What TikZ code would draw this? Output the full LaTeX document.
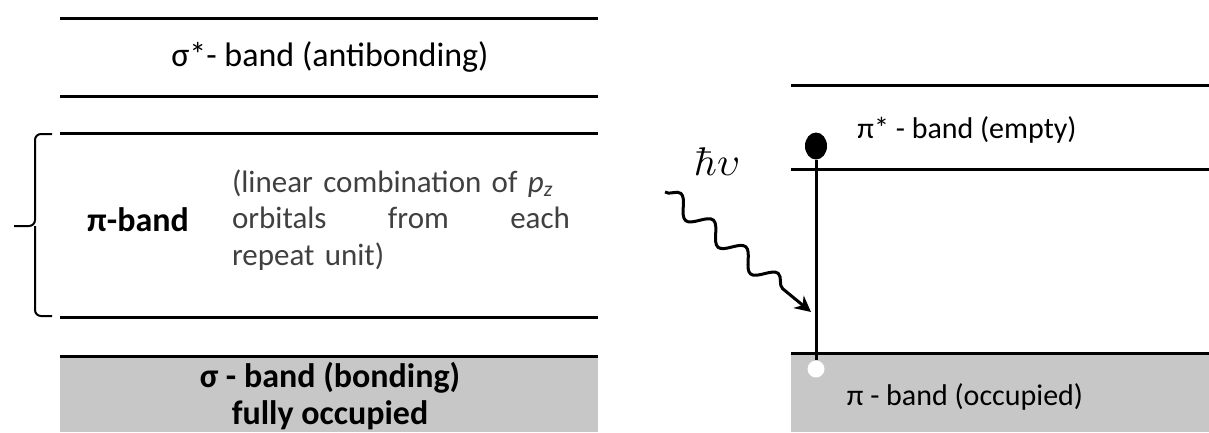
\documentclass[tikz,border=0pt]{standalone}
\usepackage[no-math]{fontspec}
\setmainfont{Carlito}
\usetikzlibrary{positioning}
\usetikzlibrary{arrows.meta,shapes.geometric}
\usetikzlibrary{decorations.pathmorphing}
\tikzstyle{bandedge}=[draw,line width=3pt]
\tikzstyle{bandfill}=[fill=black!22,draw=none]
\tikzstyle{bandlabel}=[font=\fontsize{34}{37}\selectfont,inner sep=0pt]
\tikzstyle{boldlabel}=[font=\fontsize{34}{37}\selectfont\bfseries,inner sep=0pt]
\tikzstyle{rightlabel}=[font=\fontsize{30}{34}\selectfont,inner sep=0pt]
\tikzstyle{desc}=[font=\fontsize{31}{36.5}\selectfont,text=black!75,text width=338pt,align=left,inner sep=0pt]
\tikzstyle{electron}=[ellipse,fill=black,minimum width=22pt,minimum height=27pt,inner sep=0pt]
\tikzstyle{hole}=[circle,fill=white,minimum size=17pt,inner sep=0pt]
\tikzstyle{transition}=[draw,line width=3pt]
\tikzstyle{photon}=[draw,line width=3pt,-{Stealth[length=16pt,width=16pt]},decorate,
  decoration={snake,amplitude=9pt,segment length=42pt,post length=18pt}]

\begin{document}
\begin{tikzpicture}[x=1pt,y=-1pt]
\useasboundingbox (0,0) rectangle (1209,432);

    % occupied bands
    \fill[bandfill] (60,356) rectangle (598,432);
    \fill[bandfill] (791,353) rectangle (1209,432);

    % band edges, left then right
    \foreach \ya/\xa/\xb in {18/60/598, 96/60/598, 133/60/598, 317/60/598, 356/60/598, 85/791/1209, 169/791/1209, 353/791/1209}
        \draw[bandedge] (\xa,\ya) -- (\xb,\ya);

    % brace round the pi-band
    \draw[line width=2pt,rounded corners=6pt] (52,134) -- (35,134) -- (35,226) -- (14,226);
    \draw[line width=2pt,rounded corners=6pt] (52,316) -- (35,316) -- (35,226);

    % labels
    \node[bandlabel] (sigmastar) at (330,57) {σ*- band (antibonding)};
    \node[boldlabel] (piband) at (138,220) {π-band};
    \node[desc] (picomb) at (401,220) {(linear combination of \textit{p}\textsubscript{\textit{z}}\\ orbitals\hfill from\hfill each\\ repeat unit)};
    \node[boldlabel,align=center] (sigma) at (330,396) {σ - band (bonding)\\ fully occupied};
    \node[rightlabel] (pistar) at (967,130) {π* - band (empty)};
    \node[rightlabel] (pi) at (965,397) {π - band (occupied)};

    % excitation
    \node[electron] (e1) at (816,146) {};
    \node[hole] (h1) at (816,369) {};
    \path[transition] (e1) -- (h1.north);
    \node[scale=4,inner sep=0pt] (hv) at (717,162) {$\hbar\upsilon$};
    \coordinate (wstart) at (665,192);
    \coordinate (wend) at (811,312);
    \path[photon] (wstart) -- (wend);

\end{tikzpicture}
\end{document}
